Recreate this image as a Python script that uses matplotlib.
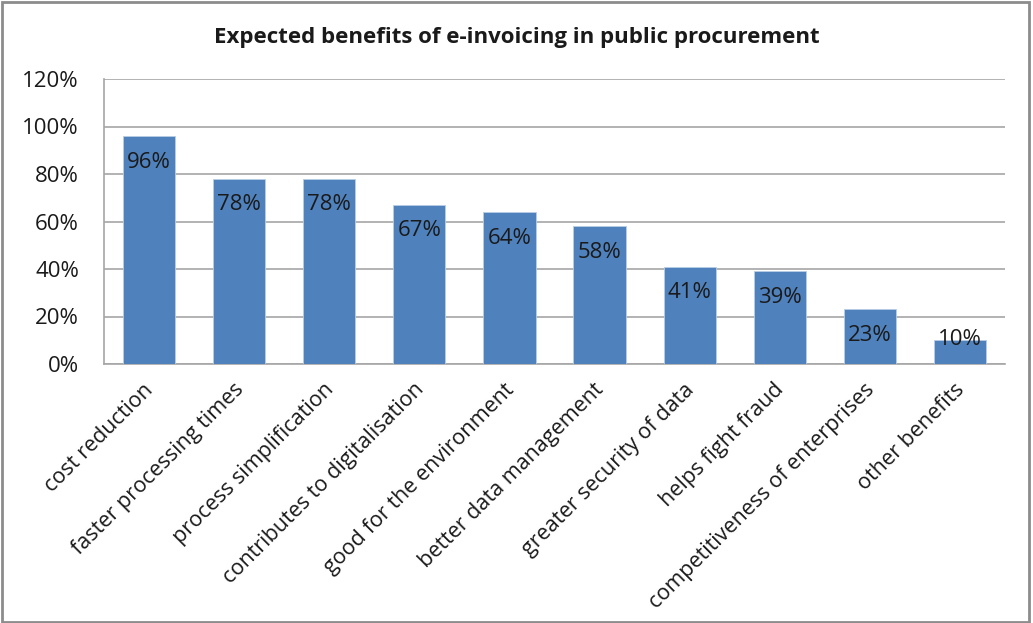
import matplotlib
matplotlib.use('Agg')
import matplotlib.pyplot as plt
from matplotlib.patches import Rectangle
from matplotlib.ticker import PercentFormatter
from matplotlib.transforms import ScaledTranslation

# Данные
categories = ['cost reduction', 'faster processing times', 'process simplification',
              'contributes to digitalisation', 'good for the environment',
              'better data management', 'greater security of data', 'helps fight fraud',
              'competitiveness of enterprises', 'other benefits']
values = [96, 78, 78, 67, 64, 58, 41, 39, 23, 10]
y_ticks = [0, 20, 40, 60, 80, 100, 120]

plt.rcParams['font.family'] = ['Open Sans', 'DejaVu Sans']

fig = plt.figure(figsize=(10.33, 6.23), dpi=100)
ax = fig.add_axes([104 / 1033, 1 - 364 / 623, (1005 - 104) / 1033, (364 - 79) / 623])

x = range(len(categories))
bars = ax.bar(x, values, width=0.58, color='#4F81BD', edgecolor='#B9CDE5', linewidth=0.6, zorder=3)

# Подписи внутри столбцов (у коротких столбцов не ниже ~10%)
for b, v in zip(bars, values):
    ax.text(b.get_x() + b.get_width() / 2, max(v - 11, 10.5), f'{v}%',
            ha='center', va='center', fontsize=16, color='#1a1a1a', zorder=4)

ax.set_xlim(-0.5, len(categories) - 0.5)
ax.set_ylim(0, 120)
ax.set_yticks(y_ticks)
ax.yaxis.set_major_formatter(PercentFormatter(decimals=0))
ax.grid(axis='y', color='#A6A6A6', linewidth=1.2, zorder=0)
ax.tick_params(axis='y', length=0, labelsize=16, pad=18, labelcolor='#1a1a1a')
ax.tick_params(axis='x', length=0, labelsize=15.5, pad=11, labelcolor='#1a1a1a')
ax.set_xticks(list(x))
ax.set_xticklabels(categories, rotation=45, ha='right', rotation_mode='anchor')
shift = ScaledTranslation(-6 / 100, 0, fig.dpi_scale_trans)
for lbl in ax.get_xticklabels():
    lbl.set_transform(lbl.get_transform() + shift)

for s in ['top', 'right']:
    ax.spines[s].set_visible(False)
for s in ['left', 'bottom']:
    ax.spines[s].set_color('#A6A6A6')
    ax.spines[s].set_linewidth(1.2)

fig.text(517 / 1033, 1 - 37 / 623, 'Expected benefits of e-invoicing in public procurement',
         ha='center', va='center', fontsize=16, fontweight='bold', color='#1a1a1a')

# Рамка
fig.patches.append(Rectangle((0.002, 0.002), 0.994, 0.994, transform=fig.transFigure,
                             fill=False, edgecolor='#8C8C8C', linewidth=2))

fig.savefig('out.png', dpi=100)
